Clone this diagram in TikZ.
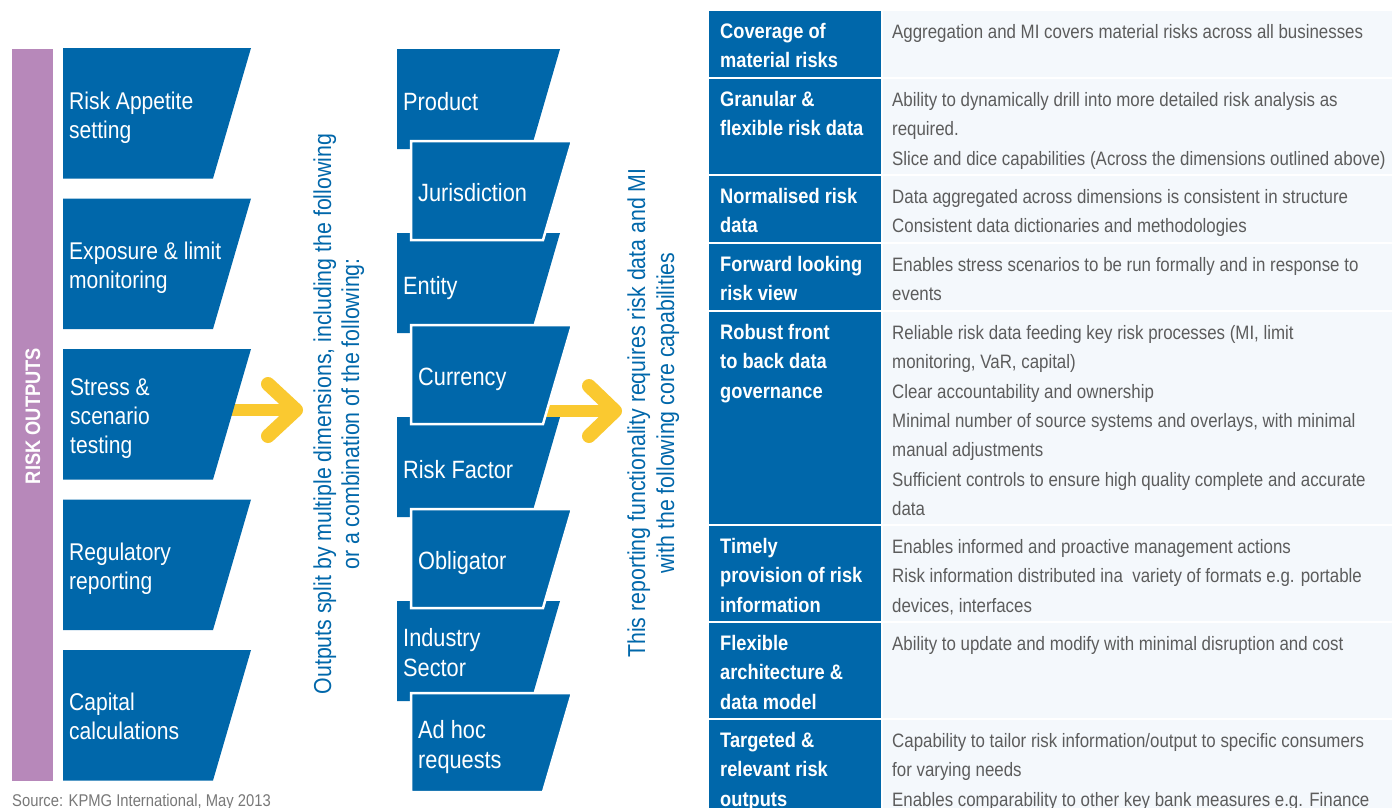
\documentclass[tikz,border=0pt]{standalone}
\usepackage{fontspec}
\setmainfont{Liberation Sans}[FakeStretch=0.87]
\definecolor{kblue}{RGB}{0,103,170}
\definecolor{kpurple}{RGB}{183,136,186}
\definecolor{kyellow}{RGB}{250,201,48}
\definecolor{kgray}{RGB}{92,92,92}
\definecolor{klight}{RGB}{244,248,252}
\definecolor{ksrc}{RGB}{120,120,120}
\tikzset{
  leftshape/.style={fill=kblue},
  midshapeA/.style={fill=kblue},
  midshapeB/.style={fill=kblue, draw=white, line width=2.5pt, line join=miter},
  lefttext/.style={text=white, anchor=west, align=left, inner sep=0pt, font=\fontsize{24.2}{29}\selectfont},
  midtext/.style={text=white, anchor=west, align=left, inner sep=0pt, font=\fontsize{25}{30}\selectfont},
  rottext/.style={text=kblue, rotate=90, anchor=base, inner sep=0pt, font=\fontsize{24.5}{28}\selectfont},
  hdcell/.style={fill=kblue},
  bdcell/.style={fill=klight},
  hdtext/.style={text=white, anchor=north west, align=left, inner sep=0pt, font=\bfseries\fontsize{21}{29.3}\selectfont},
  bdtext/.style={text=kgray, anchor=north west, align=left, inner sep=0pt, font=\fontsize{19.4}{29.3}\selectfont},
  yshaft/.style={draw=kyellow, line width=12pt},
  yhead/.style={draw=kyellow, line width=14pt, line cap=round, line join=round},
}
\begin{document}
\begin{tikzpicture}[x=1pt,y=-1pt]
\useasboundingbox[fill=white] (0,0) rectangle (1392,807);

% purple bar
\fill[kpurple] (12,49) rectangle (53,781);
\node[rotate=90, text=white, inner sep=0pt, font=\bfseries\fontsize{21}{25}\selectfont] (riskout) at (33,416) {RISK OUTPUTS};

% yellow arrows (behind shapes)
\coordinate (a1s) at (225,410);
\coordinate (a1e) at (292,410);
\coordinate (a1t) at (268,384);
\coordinate (a1p) at (296,410);
\coordinate (a1b) at (268,436);
\draw[yshaft] (a1s) -- (a1e);
\draw[yhead] (a1t) -- (a1p) -- (a1b);
\coordinate (a2s) at (540,411);
\coordinate (a2e) at (611,411);
\coordinate (a2t) at (589,386);
\coordinate (a2p) at (615,411);
\coordinate (a2b) at (589,436);
\draw[yshaft] (a2s) -- (a2e);
\draw[yhead] (a2t) -- (a2p) -- (a2b);

% left shapes
\foreach \t in {48,198.5,349,499.5,650}{
  \fill[leftshape] (63,\t) -- ++(188,0) -- ++(-38,130.5) -- ++(-150,0) -- cycle;
}
\node[lefttext] (l1) at (69,118) {\strut Risk Appetite\\\strut setting};
\node[lefttext] (l2) at (69,268.5) {\strut Exposure \& limit\\\strut monitoring};
\node[lefttext] (l3) at (70,418.5) {\strut Stress \&\\\strut scenario\\\strut testing};
\node[lefttext] (l4) at (69,569) {\strut Regulatory\\\strut reporting};
\node[lefttext] (l5) at (69,719.5) {\strut Capital\\\strut calculations};

% middle shapes: A column then B column on top
\foreach \t in {49,233,417,601}{
  \fill[midshapeA] (397,\t) -- ++(163,0) -- ++(-29,100) -- ++(-134,0) -- cycle;
}
\foreach \t in {141,325,509,693}{
  \filldraw[midshapeB] (411,\t) -- ++(161,0) -- ++(-29,99) -- ++(-132,0) -- cycle;
}
\node[midtext] (m1) at (403,104) {\strut Product};
\node[midtext] (m2) at (418,195.5) {\strut Jurisdiction};
\node[midtext] (m3) at (403,288) {\strut Entity};
\node[midtext] (m4) at (418,379.5) {\strut Currency};
\node[midtext] (m5) at (403,472) {\strut Risk Factor};
\node[midtext] (m6) at (418,563.5) {\strut Obligator};
\node[midtext] (m7) at (403,655) {\strut Industry\\\strut Sector};
\node[midtext] (m8) at (418,747) {\strut Ad hoc\\\strut requests};

% rotated texts
\node[rottext] (r1a) at (331,414) {Outputs split by multiple dimensions, including the following};
\node[rottext] (r1b) at (359,414) {or a combination of the following:};
\node[rottext] (r2a) at (645,413) {This reporting functionality requires risk data and MI};
\node[rottext] (r2b) at (674,413) {with the following core capabilities};

% table
\foreach \a/\b in {10.7/76.7, 79/173.7, 176/241.7, 244/309.7, 312/524, 526/621, 623/717.7, 720/830}{
  \fill[hdcell] (709,\a) rectangle (881,\b);
  \fill[bdcell] (883,\a) rectangle (1392,\b);
}
\node[hdtext] (h1) at (720,17.5) {\strut Coverage of\\\strut material risks};
\node[bdtext] (b1) at (892,17.5) {\strut Aggregation and MI covers material risks across all businesses};
\node[hdtext] (h2) at (720,85.8) {\strut Granular \&\\\strut flexible risk data};
\node[bdtext] (b2) at (892,85.8) {\strut Ability to dynamically drill into more detailed risk analysis as\\\strut required.\\\strut Slice and dice capabilities (Across the dimensions outlined above)};
\node[hdtext] (h3) at (720,182.8) {\strut Normalised risk\\\strut data};
\node[bdtext] (b3) at (892,182.8) {\strut Data aggregated across dimensions is consistent in structure\\\strut Consistent data dictionaries and methodologies};
\node[hdtext] (h4) at (720,250.8) {\strut Forward looking\\\strut risk view};
\node[bdtext] (b4) at (892,250.8) {\strut Enables stress scenarios to be run formally and in response to\\\strut events};
\node[hdtext] (h5) at (720,318.8) {\strut Robust front\\\strut to back data\\\strut governance};
\node[bdtext] (b5) at (892,318.8) {\strut Reliable risk data feeding key risk processes (MI, limit\\\strut monitoring, VaR, capital)\\\strut Clear accountability and ownership\\\strut Minimal number of source systems and overlays, with minimal\\\strut manual adjustments\\\strut Sufficient controls to ensure high quality complete and accurate\\\strut data};
\node[hdtext] (h6) at (720,532.8) {\strut Timely\\\strut provision of risk\\\strut information};
\node[bdtext] (b6) at (892,532.8) {\strut Enables informed and proactive management actions\\\strut Risk information distributed ina\ \ variety of formats e.g. portable\\\strut devices, interfaces};
\node[hdtext] (h7) at (720,629.8) {\strut Flexible\\\strut architecture \&\\\strut data model};
\node[bdtext] (b7) at (892,629.8) {\strut Ability to update and modify with minimal disruption and cost};
\node[hdtext] (h8) at (720,726.8) {\strut Targeted \&\\\strut relevant risk\\\strut outputs};
\node[bdtext] (b8) at (892,726.8) {\strut Capability to tailor risk information/output to specific consumers\\\strut for varying needs\\\strut Enables comparability to other key bank measures e.g. Finance};

% source
\node[anchor=base west, inner sep=0pt, text=ksrc, font=\fontsize{17}{20}\selectfont] (src) at (12,806) {Source: KPMG International, May 2013};
\end{tikzpicture}
\end{document}
